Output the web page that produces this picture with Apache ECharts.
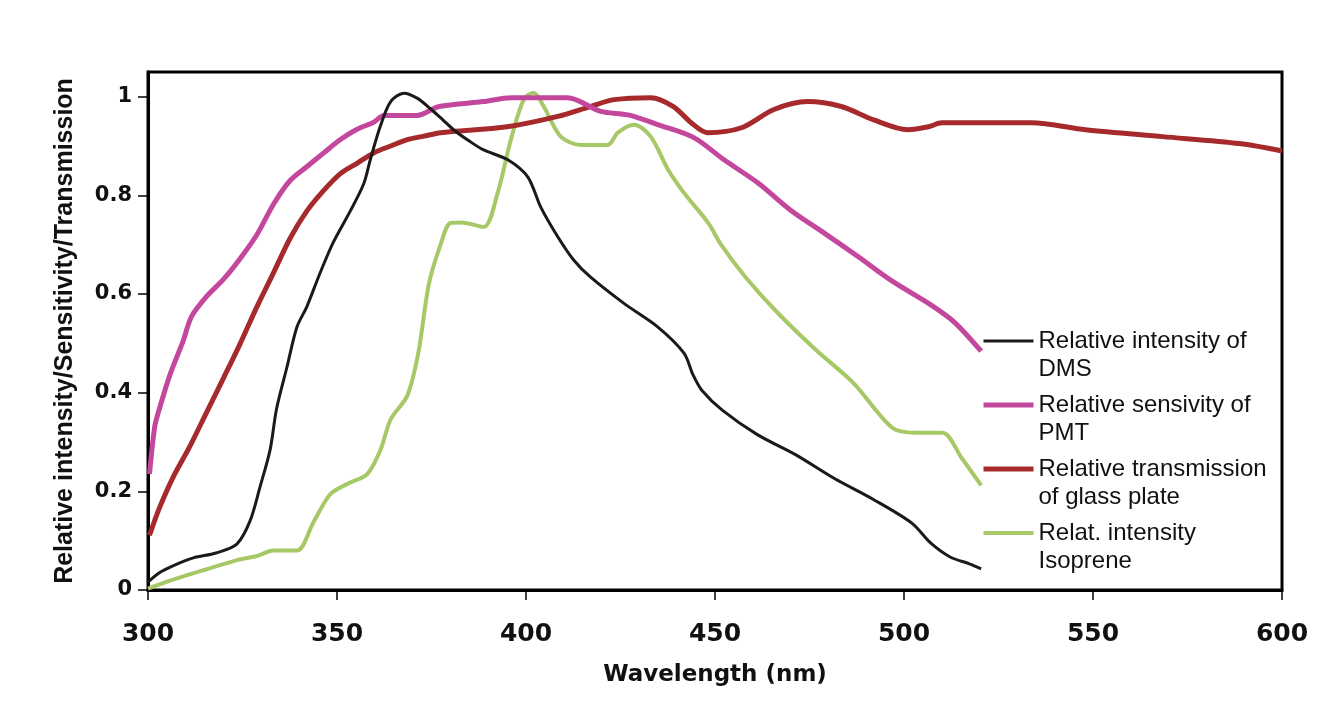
<!DOCTYPE html>
<html>
<head>
<meta charset="utf-8">
<title>Relative intensity / sensitivity / transmission</title>
<script src="https://cdn.jsdelivr.net/npm/echarts@6/dist/echarts.min.js"></script>
<style>
    html, body { margin: 0; padding: 0; background: #fff; }
    #chart { width: 1323px; height: 715px; }
</style>
</head>
<body>
<div id="chart"></div>
<script>
// wavelength (nm) / value pairs
const dmsNm = [300, 303, 306.6, 312, 318, 323.5, 327, 329.6, 332.3, 334, 336.7, 339.4, 342, 345.6, 349.1, 353.5, 357.1, 358.8, 361.5, 364.2, 367.7, 371.2, 374.8, 378, 381, 385, 388.8, 395.2, 400.5, 403.9, 408.4, 412.6, 417.1, 425.9, 434.9, 441.8, 444.2, 446.5, 452, 461.2, 471.4, 481.6, 491.8, 502, 507.1, 512.2, 517.3, 520.4]
const dmsVal = [0.016, 0.035, 0.049, 0.065, 0.075, 0.093, 0.14, 0.208, 0.284, 0.367, 0.45, 0.533, 0.574, 0.644, 0.706, 0.768, 0.824, 0.872, 0.941, 0.99, 1.007, 0.997, 0.975, 0.953, 0.932, 0.91, 0.892, 0.872, 0.837, 0.776, 0.716, 0.669, 0.634, 0.581, 0.533, 0.48, 0.436, 0.405, 0.364, 0.315, 0.274, 0.226, 0.184, 0.136, 0.095, 0.067, 0.053, 0.043]

const pmtNm = [300.4, 301.8, 303, 305.8, 309.3, 311.5, 315.5, 320, 324.3, 328.8, 333.2, 337.6, 342, 346.5, 350.9, 355.3, 359.7, 362.4, 371.2, 377, 388.8, 396, 411, 419.8, 427, 435, 444.4, 452.4, 461.4, 470, 479, 488, 496.9, 507.1, 513.3, 520.4]
const pmtVal = [0.235, 0.332, 0.367, 0.436, 0.505, 0.554, 0.595, 0.63, 0.671, 0.72, 0.782, 0.83, 0.858, 0.886, 0.913, 0.934, 0.948, 0.962, 0.962, 0.98, 0.99, 0.998, 0.998, 0.97, 0.963, 0.943, 0.917, 0.872, 0.825, 0.77, 0.723, 0.675, 0.626, 0.578, 0.543, 0.484]

const glassNm = [300.4, 303, 306.6, 311, 315.5, 320, 324.3, 328.8, 333.2, 337.6, 342, 346.5, 350.9, 355.3, 359.7, 364.2, 368.6, 373, 377.4, 395, 408.4, 417, 423.3, 433, 439, 443.7, 448, 457, 465.6, 474.5, 483.4, 492, 501, 506.5, 510, 533.7, 548, 568.4, 588.8, 600]
const glassVal = [0.111, 0.166, 0.228, 0.29, 0.36, 0.43, 0.498, 0.574, 0.643, 0.713, 0.768, 0.81, 0.844, 0.865, 0.886, 0.9, 0.913, 0.92, 0.927, 0.939, 0.96, 0.98, 0.994, 0.998, 0.98, 0.947, 0.927, 0.937, 0.974, 0.99, 0.98, 0.953, 0.933, 0.939, 0.947, 0.947, 0.933, 0.919, 0.905, 0.89]

const isoNm = [300, 306.6, 315.5, 324.3, 328.8, 333.2, 339.4, 343.8, 348.2, 352.7, 358, 361.5, 364.2, 368.6, 371.5, 374.3, 377.4, 380, 383, 388.8, 392.5, 396, 399.4, 402, 404.7, 409.2, 414.5, 421.6, 424.3, 428.6, 433, 437.6, 441.8, 448.2, 451.6, 458.2, 466.3, 476.5, 486.7, 496.9, 503, 510.2, 515.3, 520.4]
const isoVal = [0.003, 0.021, 0.042, 0.062, 0.069, 0.08, 0.08, 0.138, 0.194, 0.215, 0.235, 0.284, 0.346, 0.394, 0.48, 0.62, 0.7, 0.744, 0.745, 0.736, 0.805, 0.913, 0.994, 1.008, 0.98, 0.919, 0.902, 0.902, 0.927, 0.943, 0.919, 0.852, 0.805, 0.744, 0.7, 0.633, 0.564, 0.488, 0.419, 0.329, 0.319, 0.319, 0.267, 0.212]

const seriesNames = [
    'Relative intensity of\nDMS',
    'Relative sensivity of\nPMT',
    'Relative transmission\nof glass plate',
    'Relat. intensity\nIsoprene'
]
const seriesColors = ['#1a1a1a', '#c4479e', '#a62a2c', '#a6c866']
const seriesWidths = [3, 5, 5, 4]

let zip = (xs, ys) => xs.map((x, i) => [x, ys[i]])

let chart = echarts.init(document.getElementById('chart'))

let line = (i, nm, val) => ({
    name: seriesNames[i],
    type: 'line',
    data: zip(nm, val),
    symbol: 'none',
    smooth: 0.3,
    z: 4 - i,
    lineStyle: { color: seriesColors[i], width: seriesWidths[i] },
    itemStyle: { color: seriesColors[i] }
})

chart.setOption({
    backgroundColor: '#fff',
    animation: false,
    grid: {
        left: 148, right: 41, top: 72, bottom: 125,
        show: true, borderColor: '#000', borderWidth: 3
    },
    legend: {
        left: 976, top: 294,
        orient: 'vertical',
        itemWidth: 50, itemHeight: 14, itemGap: -20,
        itemStyle: { opacity: 0 },
        // blank first line so the icon sits level with the first text line
        formatter: name => ' \n' + name,
        textStyle: {
            fontFamily: 'Liberation Sans', fontSize: 24, color: '#111',
            lineHeight: 28
        },
        data: seriesNames.map((n, i) => ({ name: n, lineStyle: { width: seriesWidths[i] } }))
    },
    xAxis: {
        type: 'value',
        min: 300, max: 600, interval: 50,
        name: 'Wavelength (nm)',
        nameLocation: 'middle',
        nameGap: 74,
        nameTextStyle: { fontFamily: 'DejaVu Sans', fontWeight: 'bold', fontSize: 23, color: '#111' },
        axisLine: { lineStyle: { color: '#000', width: 3 } },
        axisTick: { show: true, length: 10, lineStyle: { color: '#000', width: 1.5 } },
        axisLabel: { margin: 32, fontFamily: 'DejaVu Sans', fontWeight: 'bold', fontSize: 25, color: '#111' },
        splitLine: { show: false }
    },
    yAxis: {
        type: 'value',
        min: 0, max: 1.05, interval: 0.2,
        name: 'Relative intensity/Sensitivity/Transmission',
        nameLocation: 'middle',
        nameGap: 70,
        nameTextStyle: { fontFamily: 'Liberation Sans', fontWeight: 'bold', fontSize: 25, color: '#111' },
        axisLine: { lineStyle: { color: '#000', width: 3 } },
        axisTick: { show: true, length: 10, lineStyle: { color: '#000', width: 1.5 } },
        axisLabel: { margin: 16, showMaxLabel: false, fontFamily: 'DejaVu Sans', fontWeight: 'bold', fontSize: 21, color: '#111' },
        splitLine: { show: false }
    },
    series: [
        line(0, dmsNm, dmsVal),
        line(1, pmtNm, pmtVal),
        line(2, glassNm, glassVal),
        line(3, isoNm, isoVal)
    ]
})
</script>
</body>
</html>
